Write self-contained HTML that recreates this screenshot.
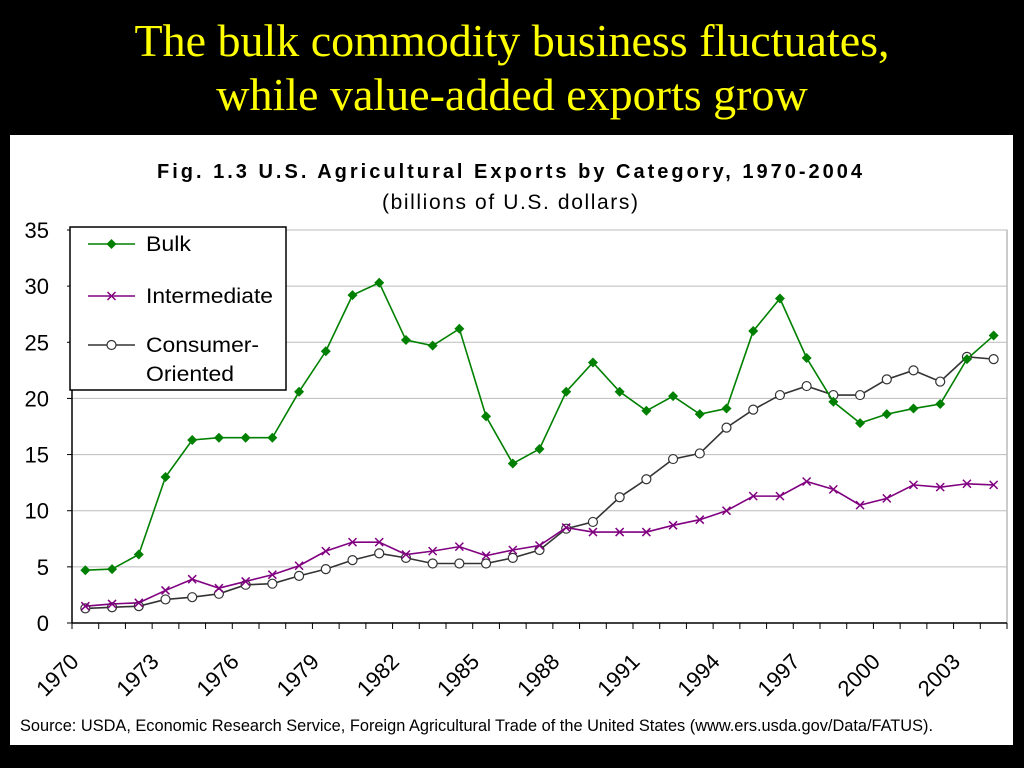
<!DOCTYPE html>
<html><head><meta charset="utf-8"><style>
body{margin:0;width:1024px;height:768px;background:#000;overflow:hidden;font-family:"Liberation Sans",sans-serif}
#title{position:absolute;left:0;top:14px;width:1024px;text-align:center;color:#ffff00;font-family:"Liberation Serif",serif;font-size:46px;line-height:54px}
</style></head><body>
<div id="title">The bulk commodity business fluctuates,<br>while value-added exports grow</div>
<svg id="chart" width="1024" height="768" style="position:absolute;left:0;top:0">
<rect x="10" y="135" width="1003" height="610" fill="#fff"/>
<text x="157" y="178" font-size="20" font-weight="bold" textLength="705" lengthAdjust="spacing">Fig. 1.3  U.S. Agricultural Exports by Category, 1970-2004</text>
<text x="382" y="209" font-size="21" textLength="256" lengthAdjust="spacing">(billions of U.S. dollars)</text>
<g id="grid"></g><g id="axes"></g><g id="series"></g>
<text x="20" y="731" font-size="16.3" textLength="913" lengthAdjust="spacingAndGlyphs">Source: USDA, Economic Research Service, Foreign Agricultural Trade of the United States (www.ers.usda.gov/Data/FATUS).</text>
<g>
<rect x="70" y="227" width="216" height="163" fill="#fff" stroke="#000" stroke-width="1.5"/>
<g><line x1="88" y1="244" x2="135" y2="244" stroke="#008000" stroke-width="1.5"/><path d="M111.5 239l5 5-5 5-5-5z" fill="#008000"/><text x="146" y="251" font-size="21" textLength="45" lengthAdjust="spacingAndGlyphs">Bulk</text></g>
<g><line x1="88" y1="296" x2="135" y2="296" stroke="#800080" stroke-width="1.5"/><path d="M107.5 292l8 8M115.5 292l-8 8" stroke="#800080" stroke-width="1.5"/><text x="146" y="303" font-size="21" textLength="127" lengthAdjust="spacingAndGlyphs">Intermediate</text></g>
<g><line x1="88" y1="345" x2="135" y2="345" stroke="#333" stroke-width="1.5"/><circle cx="111.5" cy="345" r="4.5" fill="#fff" stroke="#333" stroke-width="1.2"/><text x="146" y="352" font-size="21" textLength="113" lengthAdjust="spacingAndGlyphs">Consumer-</text><text x="146" y="381" font-size="21" textLength="88" lengthAdjust="spacingAndGlyphs">Oriented</text></g>
</g>
</svg>
<script>
const years=[];for(let y=1970;y<=2004;y++)years.push(y);
const bulk=[4.7,4.8,6.1,13.0,16.3,16.5,16.5,16.5,20.6,24.2,29.2,30.3,25.2,24.7,26.2,18.4,14.2,15.5,20.6,23.2,20.6,18.9,20.2,18.6,19.1,26.0,28.9,23.6,19.7,17.8,18.6,19.1,19.5,23.5,25.6];
const intermediate=[1.5,1.7,1.8,2.9,3.9,3.1,3.7,4.3,5.1,6.4,7.2,7.2,6.1,6.4,6.8,6.0,6.5,6.9,8.5,8.1,8.1,8.1,8.7,9.2,10.0,11.3,11.3,12.6,11.9,10.5,11.1,12.3,12.1,12.4,12.3];
const consumer=[1.3,1.4,1.5,2.1,2.3,2.6,3.4,3.5,4.2,4.8,5.6,6.2,5.8,5.3,5.3,5.3,5.8,6.5,8.4,9.0,11.2,12.8,14.6,15.1,17.4,19.0,20.3,21.1,20.3,20.3,21.7,22.5,21.5,23.7,23.5];
const yTicks=[0,5,10,15,20,25,30,35];
const xLabels=[1970,1973,1976,1979,1982,1985,1988,1991,1994,1997,2000,2003];
const L=72,R=1007,T=230,B=623,bw=(R-L)/years.length;
const x=i=>L+bw*(i+0.5), y=v=>B-(B-T)*v/35;
const NS="http://www.w3.org/2000/svg";
function mk(p,t,a){const e=document.createElementNS(NS,t);for(const k in a)e.setAttribute(k,a[k]);p.appendChild(e);return e;}
const grid=document.getElementById('grid'),axes=document.getElementById('axes'),ser=document.getElementById('series');
mk(grid,'rect',{x:L,y:T,width:R-L,height:B-T,fill:'none',stroke:'#999'});
yTicks.forEach(v=>{const g=mk(grid,'line',{x1:L,x2:R,y1:y(v),y2:y(v),stroke:'#bbb'});


mk(axes,'line',{x1:L-5,x2:L,y1:y(v),y2:y(v),stroke:'#000'});
const t=mk(axes,'text',{x:49,y:y(v)+8,'text-anchor':'end','font-size':22});t.textContent=v;

});
mk(axes,'line',{x1:L,x2:L,y1:T,y2:B,stroke:'#000','stroke-width':1.5});
mk(axes,'line',{x1:L,x2:R,y1:B,y2:B,stroke:'#000','stroke-width':1.5});
for(let i=0;i<=years.length;i++)mk(axes,'line',{x1:L+bw*i,x2:L+bw*i,y1:B,y2:B+6,stroke:'#000'});
xLabels.forEach(yr=>{const i=years.indexOf(yr);const px=L+bw*i+8,py=B+40;
const t=mk(axes,'text',{x:px,y:py,'text-anchor':'end','font-size':22,transform:`rotate(-45 ${px} ${py})`});t.textContent=yr;

});
function series(vals,color,name,marker){const g=mk(ser,'g',{});


mk(g,'polyline',{points:vals.map((v,i)=>x(i)+','+y(v)).join(' '),fill:'none',stroke:color,'stroke-width':1.6});
vals.forEach((v,i)=>{const cx=x(i),cy=y(v);let m;
if(marker==='d')m=mk(g,'path',{d:`M${cx} ${cy-5}l5 5-5 5-5-5z`,fill:color});
else if(marker==='x')m=mk(g,'path',{d:`M${cx-4} ${cy-4}l8 8M${cx+4} ${cy-4}l-8 8`,stroke:color,'stroke-width':1.5});
else m=mk(g,'circle',{cx:cx,cy:cy,r:4.5,fill:'#fff',stroke:color,'stroke-width':1.2});

});}
series(consumer,'#333','consumer-oriented','o');
series(intermediate,'#800080','intermediate','x');
series(bulk,'#008000','bulk','d');
</script>
</body></html>
